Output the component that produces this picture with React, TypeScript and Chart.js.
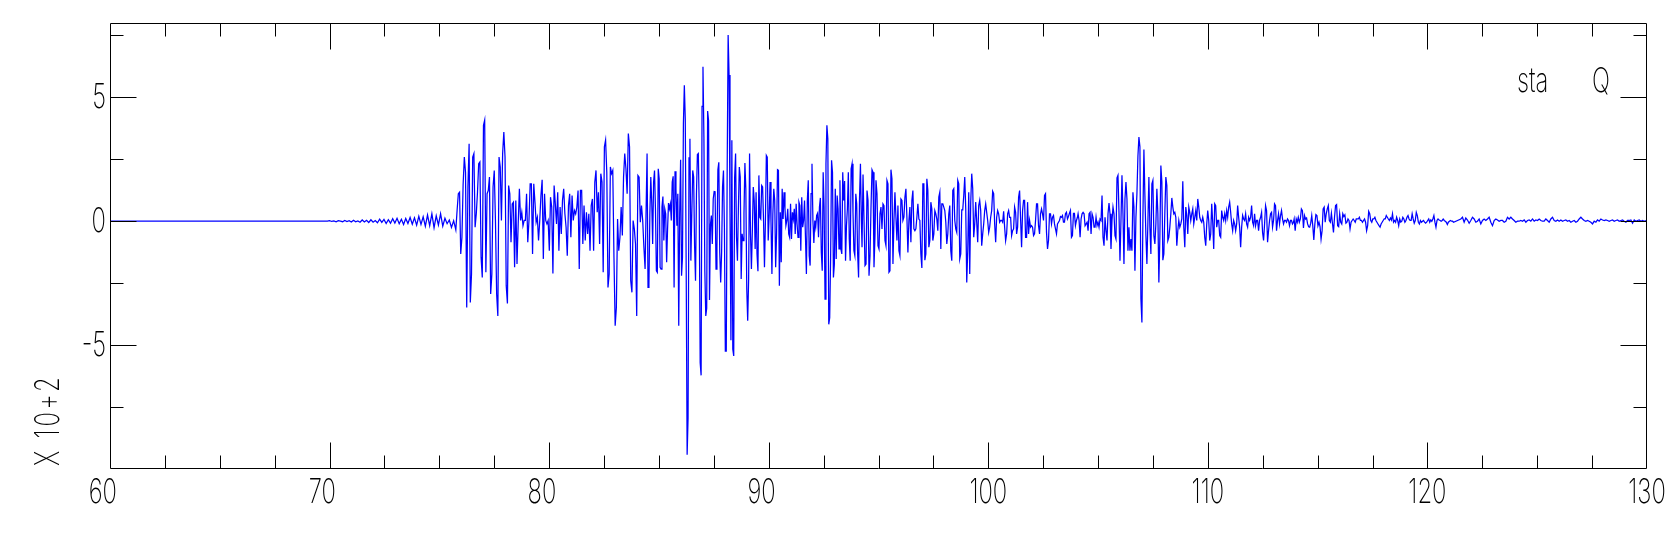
import React, { useEffect, useRef } from "react";
import { Chart, registerables } from "chart.js";

Chart.register(...registerables);

// ---- axis definition ----
const X_MIN = 60;
const X_MAX = 130;
const Y_MIN = -10;
const Y_MAX = 8;
const xTickLabels = [60, 70, 80, 90, 100, 110, 120, 130];
const xMajorTicks = [70, 80, 90, 100, 110, 120];
const xMinorTicks = [62.5, 65, 67.5, 72.5, 75, 77.5, 82.5, 85, 87.5, 92.5, 95, 97.5, 102.5, 105, 107.5, 112.5, 115, 117.5, 122.5, 125, 127.5];
const yTickLabels = [-5, 0, 5];
const yMajorTicks = [-5, 0, 5];
const yMinorTicks = [-7.5, -2.5, 2.5, 7.5];
const yAxisTitle = "X 10+2";
const stationName = "sta";
const componentName = "Q";

// ---- seismogram (amplitude in units of 10^2), segment start / end times in seconds ----
const quietStart = 60;
const quietEnd = 69.9;
const quietValues = [0, 0];

const noiseStart = 69.9;
const noiseEnd = 75.75;
const noiseValues = [
  0, 0.02, -0.01, 0.01, -0.02, 0.02, 0, -0.02, 0.03, -0.01,
  0.02, -0.03, 0.04, -0.02, 0.01, -0.04, 0.05, -0.03, 0.04, -0.05,
  0.06, -0.04, 0.03, -0.06, 0.08, -0.05, 0.07, -0.09, 0.06, -0.08,
  0.1, -0.07, 0.12, -0.1, 0.08, -0.13, 0.11, -0.09, 0.15, -0.12,
  0.14, -0.16, 0.2, -0.13, 0.18, -0.2, 0.25, -0.18, 0.3, -0.26,
  0.22, -0.15, 0.3, -0.2, 0.12, -0.1, 0.05, -0.25, 0.02, -0.35,
];

const burst1Start = 75.81;
const burst1End = 84.37;
const burst1Values = [
  0.46, 1.11, 1.17, -1.32, -0.65, 1.48, 2.59, 1.98, -3.48, 1.38, 3.13, -3.28, -2.13, 2.59, 2.73, -0.24, 0.3, 1.17, 2.32, 2.39,
  -1.46, -2.27, 3.87, 4.08, -2.06, 1.11, 1.24, 1.78, -2.94, -2.13, 1.38, 2.05, 0.03, -2.94, -3.82, 2.59, 2.19, 0.03, 2.73, 3.6,
  2.59, -2.6, -3.32, 1.44, 1.11, -0.85, 0.7, 0.77, -1.86, 0.84, -1.73, -0.11, 1.31, 0.03, 0.36, -0.18, 0.03, 0.03, 1.11, -0.85,
  0.03, 1.51, 1.51, -1.32, 1.51, 0.77, -0.04, 0.16, -0.78, 0.03, 1.04, 1.67, -1.52, 1.11, 0.03, -0.11, 0.03, -1.19, 0.97, 0.57,
  -2.11, 1.44, 0.7, -0.11, 1.17, -1.19, 0.57, -0.51, 0.84, 1.31, 0.3, -0.24, -1.39, 0.63, 1.11, -0.65, 1.04, 0.03, 0.43, 0.3,
  0.57, 1.24, -1.93, 1.24, 1.24, -0.92, 0.63, -0.78, 0.36, -0.51, 0.3, -1.19, 0.63, 0.9, -1.19, 1.58, 2.05, 0.36, 1.17, -0.92,
  1.92, 1.58, -2.06, 3.0, 3.27, 1.98, -2.67, -2.13, 2.19, 1.92, 2.05, -1.46, -4.22, -3.48, 0.09, -1.19, -0.65, 0.57, -0.58, 1.78,
  2.73, 2.12, 1.11, 3.54, 3.0, -2.4, -2.87, 0.03, -0.31, -0.92, -3.82, 1.85, 1.78, -0.04, 0.63, 0.03, -1.05, -1.93,
];

const burst2Start = 84.46;
const burst2End = 94.22;
const burst2Values = [
  2.73, -2.67, -2.54, 0.3, 1.78, 0.77, -0.92, 1.58, 2.05, 0.5, -2.0, -2.06, 2.12, 1.71, -1.86, -1.93, 0.57, 1.0, -0.78, 0.5,
  0.3, -1.66, -0.31, 0.73, 0.5, 0.7, 0.03, 1.58, 1.81, -2.67, 2.02, 1.31, -0.18, 1.11, -4.22, 0.3, 2.48, -2.2, -1.46, 3.94,
  5.49, 4.12, -2.0, -9.42, -7.94, 2.56, 3.33, -1.59, 0.3, 2.05, 1.78, -0.99, -2.4, 1.11, 2.69, 2.73, 0.5, -5.71, -6.22, 4.64,
  6.23, 3.4, -2.02, -3.82, -3.51, 4.45, 4.05, -3.18, -0.13, 0.23, -0.92, 0.9, 1.2, 1.19, -1.93, -1.09, 2.08, 2.38, -1.26, -2.47,
  -1.26, 1.38, 2.05, -0.24, -5.24, -5.24, 2.25, 7.52, 5.9, 0.36, -4.8, 3.27, -5.17, -5.44, 1.78, 2.73, -0.65, -1.59, 0.5, 2.19,
  1.78, -2.33, -0.51, -0.78, 0.3, 2.35, 1.31, -2.74, -4.02, -2.33, 2.73, -0.51, -1.93, -0.38, 1.38, 0.84, -1.12, 1.17, -1.32, -2.02,
  1.85, 0.16, 0.09, 1.44, 1.38, 0.03, -1.86, -0.04, 2.66, 2.59, -0.78, 0.16, 1.58, -0.01, -2.13, 0.3, 1.31, 0.84, -1.86, -0.51,
  2.08, 2.05, -2.6, 0.36, -1.66, 1.31, 0.09, 1.17, 0.5, -0.18, 0.03, 0.5, -0.51, -0.65, 0.7, -0.72, 0.36, 0.09, 0.5, -0.51,
  0.7, -0.11, -0.65, 0.77, 0.63, -1.19, 0.97, -0.24, 0.03, 0.84, -0.65, -2.13, 0.84, 1.65, -1.39, -1.79, 1.11, 2.32, 0.03, -0.88,
  0.03, -0.24, 0.23, 0.32, -0.65, 0.57, 0.94, -1.26, -2.0, 1.98, 0.57, -3.14, 2.32, 3.87, 3.33, -4.16, -3.89, -1.46, 2.46, 1.98,
  -2.27, -1.75, 1.31, -1.52, 1.04, 0.5, -1.12, 1.65, -1.12, -1.32, 1.98, 0.84, 1.62, -1.59, -0.18, 0.5, 1.98, -0.72, -1.59, 2.12,
  2.32, 0.36, -1.19, -1.39, 1.11, 0.7, -1.32, -2.27, 0.9, 2.32, 0.03,
];

const codaStart = 94.25;
const codaEnd = 104.06;
const codaValues = [
  -1.05, 1.89, 0.03, -1.79, -1.73, 1.24, 0.84, -2.2, -1.39, 0.57, 2.08, 1.98, -1.86, -0.58, 1.65, 1.11, -0.99, -1.12, 0.3, 0.57,
  -0.31, 0.7, 0.63, -0.78, -0.99, 1.65, 1.51, -2.06, -2.0, 2.08, 1.71, -1.73, 0.03, 1.17, 0.16, -0.78, 0.63, -1.19, -1.39, 0.9,
  0.84, 0.03, 0.16, 0.97, 1.31, 0.16, -1.26, 0.03, 0.57, -0.85, 0.84, 1.24, -0.31, -0.38, -0.31, 0.16, 0.7, 0.09, 0.03, -1.32,
  -1.89, 1.51, 1.51, -1.57, -1.32, 1.71, 1.24, -1.05, -0.78, 0.77, 0.5, -0.78, -0.51, 0.43, 0.3, 0.09, -0.38, 0.97, 1.17, -1.12,
  0.7, 0.7, 0.57, 0.43, -0.04, -0.92, -0.51, 0.3, 0.63, -1.19, -1.59, 1.24, 1.31, 0.03, -0.31, -0.45, 1.65, 1.51, -1.52, -1.32,
  0.46, 0.46, 1.04, 1.78, 0.5, -2.47, -1.19, 1.17, -2.13, 0.77, 1.92, 1.31, -0.65, -0.11, 0.77, -0.04, -0.85, 0.63, 0.84, 0.43,
  -0.99, -0.51, -0.11, 0.43, 0.7, 0.36, 0.03, -0.45, -0.24, 0.16, 0.43, 1.21, 1.11, -0.11, -0.85, 0.16, 0.43, 0.3, -0.04, 0.03,
  0.03, -0.04, 0.4, -0.24, -0.78, -0.51, 0.3, 0.43, 0.16, 0.16, -0.58, -0.38, -0.31, 0.57, 0.36, -0.51, -0.24, 0.97, 1.24, 0.09,
  -1.05, 0.43, 0.84, 0.84, -0.65, -0.65, 0.77, -0.51, 0.03, -0.24, -0.18, -0.24, -0.58, -0.51, 0.03, 0.7, 0.7, -0.18, -0.51, 0.3,
  0.5, 0.3, 0.03, 1.04, 1.11, -0.45, -1.12, -0.78, 0.3, 0.3, -0.11, 0.16, 0.23, -0.11, -0.31, -0.51, -0.11, -0.04, 0.03, 0.19,
  0.16, 0.23, -0.04, -0.04, 0.3, 0.36, 0.09, 0.19, 0.32, 0.43, -0.65, -0.58, 0.32, 0.32, -0.18, 0.03, 0.16,
];

const burst3Start = 104.09;
const burst3End = 113.9;
const burst3Values = [
  0.3, 0.03, -0.65, 0.09, 0.3, 0.36, 0.3, -0.18, -0.11, -0.04, -0.38, 0.3, 0.36, -0.51, 0.3, 0.16, -0.24, -0.24, 0.16, -0.18,
  -0.04, -0.24, 0.09, 0.03, 1.04, -0.65, -0.99, 0.16, -0.38, -0.78, 0.3, 0.73, 0.3, -1.12, 0.03, 0.57, 0.3, -0.58, -0.72, 1.75,
  1.85, 0.36, -1.59, 0.03, 1.85, 0.3, -1.73, 0.9, 1.58, 0.9, -1.19, -0.24, -1.19, -0.72, -1.19, 1.17, 0.57, -2.0, 0.16, 1.11,
  2.62, 3.4, 3.0, -3.14, -4.09, 0.16, 2.89, 1.04, -0.58, -1.73, -0.04, 1.78, -0.24, -1.32, 1.51, 1.65, -0.58, -0.92, -0.11, 1.31,
  0.3, -2.47, -0.65, 2.25, 1.58, -1.57, -1.32, 0.36, 1.78, 1.44, -0.78, -0.65, -0.24, 0.3, 0.94, 0.57, 0.3, 0.36, 0.16, -0.99,
  -0.38, 0.03, -0.24, -0.11, 0.09, 1.61, -0.24, -1.05, 0.57, 0.23, -0.51, 0.57, 0.36, 0.03, 0.3, 0.5, -0.11, 0.16, 0.43, 0.03,
  0.9, 0.57, 0.16, 0.03, -0.04, 0.16, -0.04, -0.65, -0.99, -0.11, 0.43, 0.03, -0.78, -0.51, 0.7, -0.04, -1.12, 0.7, 0.63, -0.24,
  0.03, 0.03, -0.58, -0.65, 0.43, 0.16, 0.03, 0.3, 0.03, 0.43, 0.16, 0.57, 0.77, 0.36, -0.11, -0.38, 0.03, -0.11, -0.38, -0.11,
  0.63, 0.16, -0.24, -1.05, -0.24, 0.23, 0.09, 0.03, 0.3, -0.11, -0.24, 0.16, 0.03, 0.16, 0.63, -0.04, -0.18, 0.3, -0.18, 0.03,
  0.03, -0.38, 0.03, 0.16, 0.36, -0.45, -0.78, -0.11, 0.63, 0.43, -0.85, -0.38, 0.03, 0.3, 0.36, -0.24, 0.03, 0.7, 0.63, -0.38,
  0.03, 0.3, -0.11, 0.23, 0.43, 0.09, -0.11, 0.03, 0.03, -0.04, 0.09, 0.03, -0.18, 0.03, 0.03, -0.11, -0.04,
];

const tail1Start = 113.93;
const tail1End = 121.19;
const tail1Values = [
  0.09, -0.38, 0.09, -0.04, 0.16, -0.04, 0.09, 0.5, 0.43, -0.27, 0.23, 0.09, 0.13, -0.11, -0.22, -0.24, -0.08, 0.23, -0.18, -0.76,
  -0.11, 0.27, 0.23, -0.18, -0.04, -0.22, -0.72, -0.38, 0.5, 0.57, -0.04, 0.3, 0.5, 0.63, 0.03, -0.04, 0.32, -0.08, -0.45, 0.16,
  0.63, 0.67, -0.18, -0.22, 0.3, -0.04, -0.11, 0.3, 0.19, 0.26, -0.08, -0.04, 0.09, 0.03, -0.31, -0.04, 0.03, 0.09, 0.03, -0.04,
  0.09, 0.09, 0.09, 0.16, 0.03, 0.03, -0.04, 0.03, 0.09, -0.04, -0.38, -0.18, 0.4, 0.3, 0.03, -0.04, 0.09, 0.09, 0.16, 0.03,
  -0.04, -0.11, -0.18, -0.24, -0.11, -0.04, 0.03, 0.09, 0.09, 0.23, 0.16, 0.09, 0.03, 0.13, 0.05, 0.3, -0.04, 0.03, -0.04, 0.16,
  0.03, -0.18, 0.09, -0.04, 0.0, 0.16, 0.09, -0.04, 0.03, 0.16, 0.23, 0.09, 0.03, 0.03, 0.3, 0.09, -0.08, 0.03, 0.36, 0.23,
  -0.04, -0.11, 0.03, -0.04, 0.0, 0.03, -0.04, -0.08, -0.04, 0.03, 0.09, -0.04, 0.05, 0.0, 0.09, 0.23, -0.04, -0.24, 0.03, 0.09,
  0.05, 0.03, 0.0, 0.03, 0.09, 0.03, 0.0, -0.04, -0.13, -0.04, 0.0, 0.03, 0.0, 0.0, -0.04,
];

const tail2Start = 121.52;
const tail2End = 129.95;
const tail2Values = [
  0.09, 0.16, -0.04, 0.13, 0.05, -0.08, 0.03, 0.16, 0.09, -0.04, 0.0, 0.09, -0.11, 0.03, 0.09, 0.03, 0.09, 0.16, -0.04, -0.18,
  0.03, 0.09, 0.05, 0.0, 0.03, 0.03, -0.04, 0.0, 0.16, 0.09, 0.16, 0.09, 0.03, -0.04, 0.0, 0.0, 0.03, 0.0, 0.05, -0.04,
  0.03, 0.05, 0.0, 0.09, 0.0, 0.05, 0.03, 0.09, 0.03, 0.0, 0.0, 0.09, 0.03, -0.04, 0.09, 0.16, 0.03, 0.0, 0.05, 0.0,
  0.05, 0.0, 0.03, 0.05, 0.0, 0.03, -0.04, 0.0, 0.03, -0.04, 0.0, 0.09, 0.16, 0.09, 0.03, 0.0, 0.03, 0.0, -0.04, -0.11,
  0.0, -0.04, 0.05, 0.0, 0.09, 0.05, 0.03, 0.05, 0.03, 0.0, 0.03, 0.05, 0.0, 0.03, 0.05, 0.0, 0.03, 0.05, 0.0, -0.04,
  0.03, 0.03, 0.05, -0.08, 0.05, 0.0, 0.03, 0.05, 0.0, 0.03, 0.0, 0.03,
];

const segments: Array<[number, number, number[]]> = [
  [quietStart, quietEnd, quietValues],
  [noiseStart, noiseEnd, noiseValues],
  [burst1Start, burst1End, burst1Values],
  [burst2Start, burst2End, burst2Values],
  [codaStart, codaEnd, codaValues],
  [burst3Start, burst3End, burst3Values],
  [tail1Start, tail1End, tail1Values],
  [tail2Start, tail2End, tail2Values],
];

function buildPoints() {
  const pts: { x: number; y: number }[] = [];
  for (const [t0, t1, vals] of segments) {
    const n = vals.length;
    const dt = n > 1 ? (t1 - t0) / (n - 1) : 0;
    vals.forEach((v, i) => pts.push({ x: t0 + i * dt, y: v }));
  }
  return pts;
}

// ---- text helpers (narrow, thin plotting font) ----
const FONT = '200 34px Inter, Roboto, "Noto Sans", sans-serif';
const SX = 0.7;

function drawNarrow(ctx: CanvasRenderingContext2D, s: string, x: number, y: number, align: CanvasTextAlign) {
  ctx.save();
  ctx.translate(x, y);
  ctx.scale(SX, 1);
  ctx.textAlign = align;
  ctx.textBaseline = "alphabetic";
  ctx.fillText(s, 0, 0);
  ctx.restore();
}

const framePlugin = {
  id: "sacFrame",
  afterDraw(chart: any) {
    const { ctx, chartArea: a, scales } = chart;
    const xs = scales.x;
    const ys = scales.y;
    const L = a.left + 0.5;
    const R = a.right - 0.5;
    const T = a.top + 0.5;
    const B = a.bottom - 0.5;
    const MAJ = 26;
    const MIN = 13;
    ctx.save();
    ctx.strokeStyle = "#000";
    ctx.lineWidth = 1;
    ctx.beginPath();
    ctx.rect(L, T, R - L, B - T);
    const vx = (v: number) => Math.round(xs.getPixelForValue(v)) + 0.5;
    const vy = (v: number) => Math.round(ys.getPixelForValue(v)) + 0.5;
    xMajorTicks.forEach((v) => {
      const p = vx(v);
      ctx.moveTo(p, T); ctx.lineTo(p, T + MAJ);
      ctx.moveTo(p, B); ctx.lineTo(p, B - MAJ);
    });
    xMinorTicks.forEach((v) => {
      const p = vx(v);
      ctx.moveTo(p, T); ctx.lineTo(p, T + MIN);
      ctx.moveTo(p, B); ctx.lineTo(p, B - MIN);
    });
    yMajorTicks.forEach((v) => {
      const p = vy(v);
      ctx.moveTo(L, p); ctx.lineTo(L + MAJ, p);
      ctx.moveTo(R, p); ctx.lineTo(R - MAJ, p);
    });
    yMinorTicks.forEach((v) => {
      const p = vy(v);
      ctx.moveTo(L, p); ctx.lineTo(L + MIN, p);
      ctx.moveTo(R, p); ctx.lineTo(R - MIN, p);
    });
    ctx.stroke();

    ctx.fillStyle = "#000";
    ctx.font = FONT;
    const adv = ctx.measureText("0").width * SX;
    xTickLabels.forEach((v) => {
      const s = String(v);
      const shift = ((3 - s.length) * adv) / 2;
      drawNarrow(ctx, s, xs.getPixelForValue(v) - shift, a.bottom + 34, "center");
    });
    yTickLabels.forEach((v) => {
      drawNarrow(ctx, String(v), a.left - 4, ys.getPixelForValue(v) + 11, "right");
    });

    // y-axis multiplier title
    ctx.save();
    ctx.translate(59, 466);
    ctx.rotate(-Math.PI / 2);
    ctx.scale(SX, 1);
    (ctx as any).letterSpacing = "4px";
    ctx.textAlign = "left";
    ctx.textBaseline = "alphabetic";
    ctx.fillText(yAxisTitle, 0, 0);
    ctx.restore();

    // station / component label
    drawNarrow(ctx, stationName, 1517, 92, "left");
    drawNarrow(ctx, componentName, 1592, 92, "left");
    ctx.restore();
  },
};

export default function App() {
  const canvasRef = useRef<HTMLCanvasElement | null>(null);

  useEffect(() => {
    const canvas = canvasRef.current;
    if (!canvas) return;
    const chart = new Chart(canvas, {
      type: "line",
      data: {
        datasets: [
          {
            data: buildPoints(),
            borderColor: "#0000ff",
            borderWidth: 1.25,
            pointRadius: 0,
            pointHitRadius: 0,
            fill: false,
            tension: 0,
          },
        ],
      },
      options: {
        responsive: false,
        animation: false,
        events: [],
        parsing: false,
        normalized: true,
        layout: { padding: { left: 0, top: 23, right: 27, bottom: 0 } },
        plugins: { legend: { display: false }, tooltip: { enabled: false }, title: { display: false } },
        scales: {
          x: {
            type: "linear",
            min: X_MIN,
            max: X_MAX,
            ticks: { display: false, stepSize: 10 },
            grid: { display: false },
            border: { display: false },
            afterFit: (s: any) => { s.height = 65; },
          },
          y: {
            type: "linear",
            min: Y_MIN,
            max: Y_MAX,
            ticks: { display: false, stepSize: 5 },
            grid: { display: false },
            border: { display: false },
            afterFit: (s: any) => { s.width = 110; },
          },
        },
      },
      plugins: [framePlugin],
    } as any);
    return () => chart.destroy();
  }, []);

  return (
    <div style={{ position: "fixed", left: 0, top: 0, width: 1674, height: 534, background: "#fff" }}>
      <canvas ref={canvasRef} width={1674} height={534} style={{ display: "block", width: 1674, height: 534 }} />
    </div>
  );
}
